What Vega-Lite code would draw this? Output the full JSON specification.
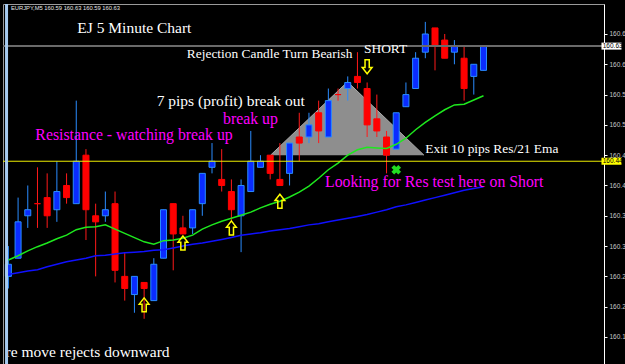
{
"$schema": "https://vega.github.io/schema/vega-lite/v6.json",
"width": 601, "height": 360,
"autosize": {"type": "none"},
"padding": {"left": 3, "top": 4, "right": 21, "bottom": 0},
"background": "#000000",
"config": {"view": {"stroke": "#9a9a9a", "fill": "#000000"}, "axis": {"title": null, "labelOverlap": false}},
"datasets": {
"candles": [
{"i":0,"o":160.25,"h":160.30,"l":160.23,"c":160.27},
{"i":1,"o":160.28,"h":160.38,"l":160.28,"c":160.34},
{"i":2,"o":160.35,"h":160.40,"l":160.33,"c":160.36},
{"i":3,"o":160.37,"h":160.43,"l":160.33,"c":160.37},
{"i":4,"o":160.38,"h":160.42,"l":160.33,"c":160.35},
{"i":5,"o":160.36,"h":160.44,"l":160.34,"c":160.39},
{"i":6,"o":160.40,"h":160.42,"l":160.37,"c":160.38},
{"i":7,"o":160.37,"h":160.54,"l":160.37,"c":160.44},
{"i":8,"o":160.45,"h":160.46,"l":160.31,"c":160.36},
{"i":9,"o":160.35,"h":160.37,"l":160.25,"c":160.34},
{"i":10,"o":160.35,"h":160.39,"l":160.34,"c":160.36},
{"i":11,"o":160.37,"h":160.39,"l":160.24,"c":160.26},
{"i":12,"o":160.25,"h":160.29,"l":160.21,"c":160.23},
{"i":13,"o":160.22,"h":160.25,"l":160.19,"c":160.25},
{"i":14,"o":160.24,"h":160.24,"l":160.18,"c":160.23},
{"i":15,"o":160.21,"h":160.28,"l":160.21,"c":160.27},
{"i":16,"o":160.28,"h":160.36,"l":160.28,"c":160.36},
{"i":17,"o":160.37,"h":160.37,"l":160.26,"c":160.32},
{"i":18,"o":160.33,"h":160.35,"l":160.32,"c":160.32},
{"i":19,"o":160.33,"h":160.36,"l":160.32,"c":160.36},
{"i":20,"o":160.37,"h":160.42,"l":160.35,"c":160.42},
{"i":21,"o":160.43,"h":160.47,"l":160.42,"c":160.44},
{"i":22,"o":160.41,"h":160.46,"l":160.39,"c":160.40},
{"i":23,"o":160.39,"h":160.41,"l":160.34,"c":160.36},
{"i":24,"o":160.35,"h":160.41,"l":160.29,"c":160.40},
{"i":25,"o":160.39,"h":160.49,"l":160.39,"c":160.44},
{"i":26,"o":160.43,"h":160.45,"l":160.43,"c":160.44},
{"i":27,"o":160.45,"h":160.45,"l":160.41,"c":160.42},
{"i":28,"o":160.41,"h":160.47,"l":160.40,"c":160.40},
{"i":29,"o":160.42,"h":160.47,"l":160.40,"c":160.47},
{"i":30,"o":160.48,"h":160.52,"l":160.44,"c":160.47},
{"i":31,"o":160.48,"h":160.52,"l":160.47,"c":160.50},
{"i":32,"o":160.52,"h":160.54,"l":160.47,"c":160.49},
{"i":33,"o":160.48,"h":160.56,"l":160.48,"c":160.54},
{"i":34,"o":160.55,"h":160.56,"l":160.54,"c":160.55},
{"i":35,"o":160.56,"h":160.58,"l":160.54,"c":160.57},
{"i":36,"o":160.58,"h":160.62,"l":160.56,"c":160.57},
{"i":37,"o":160.56,"h":160.57,"l":160.48,"c":160.50},
{"i":38,"o":160.51,"h":160.55,"l":160.48,"c":160.49},
{"i":39,"o":160.48,"h":160.49,"l":160.42,"c":160.45},
{"i":40,"o":160.46,"h":160.52,"l":160.46,"c":160.52},
{"i":41,"o":160.53,"h":160.57,"l":160.53,"c":160.55},
{"i":42,"o":160.56,"h":160.62,"l":160.56,"c":160.61},
{"i":43,"o":160.62,"h":160.67,"l":160.61,"c":160.65},
{"i":44,"o":160.66,"h":160.66,"l":160.59,"c":160.63},
{"i":45,"o":160.64,"h":160.65,"l":160.61,"c":160.61},
{"i":46,"o":160.62,"h":160.64,"l":160.60,"c":160.63},
{"i":47,"o":160.61,"h":160.63,"l":160.54,"c":160.56},
{"i":48,"o":160.58,"h":160.60,"l":160.55,"c":160.60},
{"i":49,"o":160.59,"h":160.63,"l":160.59,"c":160.63}
],
"ma": [
{"i":0,"ema":160.277,"sma":160.253},
{"i":1,"ema":160.284,"sma":160.256},
{"i":2,"ema":160.292,"sma":160.259},
{"i":3,"ema":160.299,"sma":160.261},
{"i":4,"ema":160.305,"sma":160.266},
{"i":5,"ema":160.312,"sma":160.270},
{"i":6,"ema":160.318,"sma":160.274},
{"i":7,"ema":160.327,"sma":160.277},
{"i":8,"ema":160.331,"sma":160.280},
{"i":9,"ema":160.332,"sma":160.284},
{"i":10,"ema":160.335,"sma":160.285},
{"i":11,"ema":160.328,"sma":160.287},
{"i":12,"ema":160.321,"sma":160.289},
{"i":13,"ema":160.314,"sma":160.290},
{"i":14,"ema":160.307,"sma":160.291},
{"i":15,"ema":160.303,"sma":160.293},
{"i":16,"ema":160.309,"sma":160.294},
{"i":17,"ema":160.310,"sma":160.297},
{"i":18,"ema":160.313,"sma":160.300},
{"i":19,"ema":160.318,"sma":160.303},
{"i":20,"ema":160.328,"sma":160.305},
{"i":21,"ema":160.335,"sma":160.308},
{"i":22,"ema":160.341,"sma":160.311},
{"i":23,"ema":160.346,"sma":160.314},
{"i":24,"ema":160.351,"sma":160.318},
{"i":25,"ema":160.356,"sma":160.320},
{"i":26,"ema":160.363,"sma":160.322},
{"i":27,"ema":160.369,"sma":160.325},
{"i":28,"ema":160.374,"sma":160.327},
{"i":29,"ema":160.381,"sma":160.329},
{"i":30,"ema":160.389,"sma":160.332},
{"i":31,"ema":160.399,"sma":160.335},
{"i":32,"ema":160.412,"sma":160.337},
{"i":33,"ema":160.426,"sma":160.340},
{"i":34,"ema":160.437,"sma":160.343},
{"i":35,"ema":160.450,"sma":160.346},
{"i":36,"ema":160.459,"sma":160.349},
{"i":37,"ema":160.463,"sma":160.352},
{"i":38,"ema":160.462,"sma":160.356},
{"i":39,"ema":160.461,"sma":160.360},
{"i":40,"ema":160.468,"sma":160.365},
{"i":41,"ema":160.478,"sma":160.368},
{"i":42,"ema":160.492,"sma":160.372},
{"i":43,"ema":160.504,"sma":160.376},
{"i":44,"ema":160.515,"sma":160.380},
{"i":45,"ema":160.525,"sma":160.384},
{"i":46,"ema":160.533,"sma":160.388},
{"i":47,"ema":160.534,"sma":160.392},
{"i":48,"ema":160.541,"sma":160.395},
{"i":49,"ema":160.548,"sma":160.398}
],
"levels": [
{"name":"bid","price":160.63},
{"name":"resistance","price":160.44}
],
"triangle": [
{"i":27.04,"p":160.45},
{"i":34.98,"p":160.571},
{"i":42.86,"p":160.45}
],
"arrows": [
{"i":14,"p":160.203,"dir":"up"},
{"i":18,"p":160.305,"dir":"up"},
{"i":23,"p":160.330,"dir":"up"},
{"i":28,"p":160.374,"dir":"up"},
{"i":37,"p":160.596,"dir":"down"}
],
"exits": [
{"i":40,"p":160.426}
],
"notes": [
{"text":"EJ 5 Minute Chart","i":12.99,"p":160.6512,"role":"title"},
{"text":"Rejection Candle Turn Bearish","i":26.94,"p":160.6099,"role":"note"},
{"text":"SHORT","i":38.90,"p":160.6191,"role":"note"},
{"text":"7 pips (profit) break out","i":22.93,"p":160.5312,"role":"title"},
{"text":"break up","i":24.96,"p":160.5015,"role":"signal"},
{"text":"Resistance - watching break up","i":12.96,"p":160.4751,"role":"signal"},
{"text":"Exit 10 pips Res/21 Ema","i":49.86,"p":160.4541,"role":"note"},
{"text":"Looking for Res test here on Short","i":43.92,"p":160.3980,"role":"signal"},
{"text":"re move rejects downward","i":8.17,"p":160.1165,"role":"title"}
],
"header": [
{"text":"EURJPY,M5  160.59 160.63 160.59 160.63","i":0.26,"p":160.6891}
]
},
"layer": [
{"data":{"name":"triangle"},
 "mark":{"type":"area","color":"#8e8e8e","opacity":1,"line":{"color":"#aaaaaa","strokeWidth":1}},
 "encoding":{
  "x":{"field":"i","type":"quantitative","scale":{"domain":[-0.04,60.913],"nice":false,"zero":false},"axis":null},
  "y":{"field":"p","type":"quantitative","scale":{"domain":[160.1054,160.6995],"zero":false,"nice":false},"axis":{"orient":"right","values":[160.15,160.2,160.25,160.3,160.35,160.4,160.45,160.5,160.55,160.6,160.65],"format":".2f","labelColor":"#c8c8c8","labelFont":"Liberation Sans","labelFontSize":6.5,"tickColor":"#ffffff","tickSize":3,"domainColor":"#ffffff","labelPadding":2,"grid":false,"title":null,"labelOverlap":false,"labelBaseline":"middle"}},
  "y2":{"datum":160.45}}},
{"data":{"name":"candles"},
 "mark":{"type":"rule","strokeWidth":1},
 "encoding":{
  "x":{"field":"i","type":"quantitative","scale":{"domain":[-0.04,60.913],"nice":false,"zero":false},"axis":null},
  "y":{"field":"l","type":"quantitative","scale":{"domain":[160.1054,160.6995],"zero":false,"nice":false},"axis":{"orient":"right","values":[160.15,160.2,160.25,160.3,160.35,160.4,160.45,160.5,160.55,160.6,160.65],"format":".2f","labelColor":"#c8c8c8","labelFont":"Liberation Sans","labelFontSize":6.5,"tickColor":"#ffffff","tickSize":3,"domainColor":"#ffffff","labelPadding":2,"grid":false,"title":null,"labelOverlap":false,"labelBaseline":"middle"}},
  "y2":{"field":"h"},
  "color":{"condition":{"test":"datum.c > datum.o","value":"#2a8cff"},"value":"#ff1a1a"}}},
{"data":{"name":"candles"},
 "mark":{"type":"bar","size":6,"strokeWidth":1},
 "encoding":{
  "x":{"field":"i","type":"quantitative","scale":{"domain":[-0.04,60.913],"nice":false,"zero":false},"axis":null},
  "y":{"field":"o","type":"quantitative","scale":{"domain":[160.1054,160.6995],"zero":false,"nice":false},"axis":{"orient":"right","values":[160.15,160.2,160.25,160.3,160.35,160.4,160.45,160.5,160.55,160.6,160.65],"format":".2f","labelColor":"#c8c8c8","labelFont":"Liberation Sans","labelFontSize":6.5,"tickColor":"#ffffff","tickSize":3,"domainColor":"#ffffff","labelPadding":2,"grid":false,"title":null,"labelOverlap":false,"labelBaseline":"middle"}},
  "y2":{"field":"c"},
  "fill":{"condition":{"test":"datum.c > datum.o","value":"#0a2cff"},"value":"#ff0000"},
  "stroke":{"condition":{"test":"datum.c > datum.o","value":"#2a8cff"},"value":"#ff0000"}}},
{"data":{"name":"ma"},
 "mark":{"type":"line","color":"#1010ff","strokeWidth":1.5},
 "encoding":{
  "x":{"field":"i","type":"quantitative","scale":{"domain":[-0.04,60.913],"nice":false,"zero":false},"axis":null},
  "y":{"field":"sma","type":"quantitative","scale":{"domain":[160.1054,160.6995],"zero":false,"nice":false},"axis":{"orient":"right","values":[160.15,160.2,160.25,160.3,160.35,160.4,160.45,160.5,160.55,160.6,160.65],"format":".2f","labelColor":"#c8c8c8","labelFont":"Liberation Sans","labelFontSize":6.5,"tickColor":"#ffffff","tickSize":3,"domainColor":"#ffffff","labelPadding":2,"grid":false,"title":null,"labelOverlap":false,"labelBaseline":"middle"}}}},
{"data":{"name":"ma"},
 "mark":{"type":"line","color":"#1ee81e","strokeWidth":1.5},
 "encoding":{
  "x":{"field":"i","type":"quantitative","scale":{"domain":[-0.04,60.913],"nice":false,"zero":false},"axis":null},
  "y":{"field":"ema","type":"quantitative","scale":{"domain":[160.1054,160.6995],"zero":false,"nice":false},"axis":{"orient":"right","values":[160.15,160.2,160.25,160.3,160.35,160.4,160.45,160.5,160.55,160.6,160.65],"format":".2f","labelColor":"#c8c8c8","labelFont":"Liberation Sans","labelFontSize":6.5,"tickColor":"#ffffff","tickSize":3,"domainColor":"#ffffff","labelPadding":2,"grid":false,"title":null,"labelOverlap":false,"labelBaseline":"middle"}}}},
{"data":{"name":"levels"},
 "transform":[{"filter":"datum.name == 'bid'"}],
 "mark":{"type":"rule","color":"#6a6a6a","strokeWidth":2},
 "encoding":{
  "y":{"field":"price","type":"quantitative","scale":{"domain":[160.1054,160.6995],"zero":false,"nice":false},"axis":{"orient":"right","values":[160.15,160.2,160.25,160.3,160.35,160.4,160.45,160.5,160.55,160.6,160.65],"format":".2f","labelColor":"#c8c8c8","labelFont":"Liberation Sans","labelFontSize":6.5,"tickColor":"#ffffff","tickSize":3,"domainColor":"#ffffff","labelPadding":2,"grid":false,"title":null,"labelOverlap":false,"labelBaseline":"middle"}}}},
{"data":{"name":"levels"},
 "transform":[{"filter":"datum.name == 'resistance'"}],
 "mark":{"type":"rule","color":"#eeee00","strokeWidth":1},
 "encoding":{
  "y":{"field":"price","type":"quantitative","scale":{"domain":[160.1054,160.6995],"zero":false,"nice":false},"axis":{"orient":"right","values":[160.15,160.2,160.25,160.3,160.35,160.4,160.45,160.5,160.55,160.6,160.65],"format":".2f","labelColor":"#c8c8c8","labelFont":"Liberation Sans","labelFontSize":6.5,"tickColor":"#ffffff","tickSize":3,"domainColor":"#ffffff","labelPadding":2,"grid":false,"title":null,"labelOverlap":false,"labelBaseline":"middle"}}}},
{"data":{"name":"arrows"},
 "mark":{"type":"point","filled":false,"color":"#ffff00","strokeWidth":1.5,"size":196,"opacity":1},
 "encoding":{
  "x":{"field":"i","type":"quantitative","scale":{"domain":[-0.04,60.913],"nice":false,"zero":false},"axis":null},
  "y":{"field":"p","type":"quantitative","scale":{"domain":[160.1054,160.6995],"zero":false,"nice":false},"axis":{"orient":"right","values":[160.15,160.2,160.25,160.3,160.35,160.4,160.45,160.5,160.55,160.6,160.65],"format":".2f","labelColor":"#c8c8c8","labelFont":"Liberation Sans","labelFontSize":6.5,"tickColor":"#ffffff","tickSize":3,"domainColor":"#ffffff","labelPadding":2,"grid":false,"title":null,"labelOverlap":false,"labelBaseline":"middle"}},
  "shape":{"field":"dir","type":"nominal","scale":{"domain":["up","down"],"range":["M0,-1L0.7,-0.1L0.3,-0.1L0.3,1L-0.3,1L-0.3,-0.1L-0.7,-0.1Z","M0,1L0.7,0.1L0.3,0.1L0.3,-1L-0.3,-1L-0.3,0.1L-0.7,0.1Z"]},"legend":null}}},
{"data":{"name":"exits"},
 "mark":{"type":"point","shape":"cross","angle":45,"size":95,"filled":true,"color":"#22dd22","opacity":1},
 "encoding":{
  "x":{"field":"i","type":"quantitative","scale":{"domain":[-0.04,60.913],"nice":false,"zero":false},"axis":null},
  "y":{"field":"p","type":"quantitative","scale":{"domain":[160.1054,160.6995],"zero":false,"nice":false},"axis":{"orient":"right","values":[160.15,160.2,160.25,160.3,160.35,160.4,160.45,160.5,160.55,160.6,160.65],"format":".2f","labelColor":"#c8c8c8","labelFont":"Liberation Sans","labelFontSize":6.5,"tickColor":"#ffffff","tickSize":3,"domainColor":"#ffffff","labelPadding":2,"grid":false,"title":null,"labelOverlap":false,"labelBaseline":"middle"}}}},
{"data":{"name":"notes"},
 "transform":[{"filter":"datum.role == 'title'"}],
 "mark":{"type":"text","font":"Liberation Serif","fontSize":15.5,"color":"#ffffff","align":"center","baseline":"alphabetic"},
 "encoding":{
  "x":{"field":"i","type":"quantitative","scale":{"domain":[-0.04,60.913],"nice":false,"zero":false},"axis":null},
  "y":{"field":"p","type":"quantitative","scale":{"domain":[160.1054,160.6995],"zero":false,"nice":false},"axis":{"orient":"right","values":[160.15,160.2,160.25,160.3,160.35,160.4,160.45,160.5,160.55,160.6,160.65],"format":".2f","labelColor":"#c8c8c8","labelFont":"Liberation Sans","labelFontSize":6.5,"tickColor":"#ffffff","tickSize":3,"domainColor":"#ffffff","labelPadding":2,"grid":false,"title":null,"labelOverlap":false,"labelBaseline":"middle"}},
  "text":{"field":"text"}}},
{"data":{"name":"notes"},
 "transform":[{"filter":"datum.role == 'note'"}],
 "mark":{"type":"text","font":"Liberation Serif","fontSize":13.4,"color":"#ffffff","align":"center","baseline":"alphabetic"},
 "encoding":{
  "x":{"field":"i","type":"quantitative","scale":{"domain":[-0.04,60.913],"nice":false,"zero":false},"axis":null},
  "y":{"field":"p","type":"quantitative","scale":{"domain":[160.1054,160.6995],"zero":false,"nice":false},"axis":{"orient":"right","values":[160.15,160.2,160.25,160.3,160.35,160.4,160.45,160.5,160.55,160.6,160.65],"format":".2f","labelColor":"#c8c8c8","labelFont":"Liberation Sans","labelFontSize":6.5,"tickColor":"#ffffff","tickSize":3,"domainColor":"#ffffff","labelPadding":2,"grid":false,"title":null,"labelOverlap":false,"labelBaseline":"middle"}},
  "text":{"field":"text"}}},
{"data":{"name":"notes"},
 "transform":[{"filter":"datum.role == 'signal'"}],
 "mark":{"type":"text","font":"Liberation Serif","fontSize":15.8,"color":"#ff00ff","align":"center","baseline":"alphabetic"},
 "encoding":{
  "x":{"field":"i","type":"quantitative","scale":{"domain":[-0.04,60.913],"nice":false,"zero":false},"axis":null},
  "y":{"field":"p","type":"quantitative","scale":{"domain":[160.1054,160.6995],"zero":false,"nice":false},"axis":{"orient":"right","values":[160.15,160.2,160.25,160.3,160.35,160.4,160.45,160.5,160.55,160.6,160.65],"format":".2f","labelColor":"#c8c8c8","labelFont":"Liberation Sans","labelFontSize":6.5,"tickColor":"#ffffff","tickSize":3,"domainColor":"#ffffff","labelPadding":2,"grid":false,"title":null,"labelOverlap":false,"labelBaseline":"middle"}},
  "text":{"field":"text"}}},
{"data":{"name":"header"},
 "mark":{"type":"text","font":"Liberation Sans","fontSize":5.8,"align":"left","baseline":"alphabetic","color":"#e6e6e6"},
 "encoding":{
  "x":{"field":"i","type":"quantitative","scale":{"domain":[-0.04,60.913],"nice":false,"zero":false},"axis":null},
  "y":{"field":"p","type":"quantitative","scale":{"domain":[160.1054,160.6995],"zero":false,"nice":false},"axis":{"orient":"right","values":[160.15,160.2,160.25,160.3,160.35,160.4,160.45,160.5,160.55,160.6,160.65],"format":".2f","labelColor":"#c8c8c8","labelFont":"Liberation Sans","labelFontSize":6.5,"tickColor":"#ffffff","tickSize":3,"domainColor":"#ffffff","labelPadding":2,"grid":false,"title":null,"labelOverlap":false,"labelBaseline":"middle"}},
  "text":{"field":"text"}}},
{"data":{"name":"levels"},
 "transform":[{"filter":"datum.name == 'bid'"}],
 "mark":{"type":"point","shape":"M-1,-0.35L1,-0.35L1,0.35L-1,0.35Z","size":400,"filled":true,"opacity":1,"color":"#ffffff","strokeWidth":0},
 "encoding":{
  "x":{"datum":62.2,"type":"quantitative","scale":{"domain":[-0.04,60.913],"nice":false,"zero":false},"axis":null},
  "y":{"field":"price","type":"quantitative","scale":{"domain":[160.1054,160.6995],"zero":false,"nice":false},"axis":{"orient":"right","values":[160.15,160.2,160.25,160.3,160.35,160.4,160.45,160.5,160.55,160.6,160.65],"format":".2f","labelColor":"#c8c8c8","labelFont":"Liberation Sans","labelFontSize":6.5,"tickColor":"#ffffff","tickSize":3,"domainColor":"#ffffff","labelPadding":2,"grid":false,"title":null,"labelOverlap":false,"labelBaseline":"middle"}}}},
{"data":{"name":"levels"},
 "transform":[{"filter":"datum.name == 'resistance'"}],
 "mark":{"type":"point","shape":"M-1,-0.35L1,-0.35L1,0.35L-1,0.35Z","size":400,"filled":true,"opacity":1,"color":"#ffff00","strokeWidth":0},
 "encoding":{
  "x":{"datum":62.2,"type":"quantitative","scale":{"domain":[-0.04,60.913],"nice":false,"zero":false},"axis":null},
  "y":{"field":"price","type":"quantitative","scale":{"domain":[160.1054,160.6995],"zero":false,"nice":false},"axis":{"orient":"right","values":[160.15,160.2,160.25,160.3,160.35,160.4,160.45,160.5,160.55,160.6,160.65],"format":".2f","labelColor":"#c8c8c8","labelFont":"Liberation Sans","labelFontSize":6.5,"tickColor":"#ffffff","tickSize":3,"domainColor":"#ffffff","labelPadding":2,"grid":false,"title":null,"labelOverlap":false,"labelBaseline":"middle"}}}},
{"data":{"name":"levels"},
 "mark":{"type":"text","align":"left","baseline":"middle","font":"Liberation Sans","fontSize":6.5,"color":"#000000"},
 "encoding":{
  "x":{"datum":61.3,"type":"quantitative","scale":{"domain":[-0.04,60.913],"nice":false,"zero":false},"axis":null},
  "y":{"field":"price","type":"quantitative","scale":{"domain":[160.1054,160.6995],"zero":false,"nice":false},"axis":{"orient":"right","values":[160.15,160.2,160.25,160.3,160.35,160.4,160.45,160.5,160.55,160.6,160.65],"format":".2f","labelColor":"#c8c8c8","labelFont":"Liberation Sans","labelFontSize":6.5,"tickColor":"#ffffff","tickSize":3,"domainColor":"#ffffff","labelPadding":2,"grid":false,"title":null,"labelOverlap":false,"labelBaseline":"middle"}},
  "text":{"field":"price","type":"quantitative","format":".2f"}}},
{"data":{"name":"levels"},
 "transform":[{"filter":"datum.name == 'bid'"}],
 "mark":{"type":"rule","color":"#a6caf0","strokeWidth":3},
 "encoding":{
  "x":{"datum":-0.19,"type":"quantitative","scale":{"domain":[-0.04,60.913],"nice":false,"zero":false},"axis":null}}}
]
}
